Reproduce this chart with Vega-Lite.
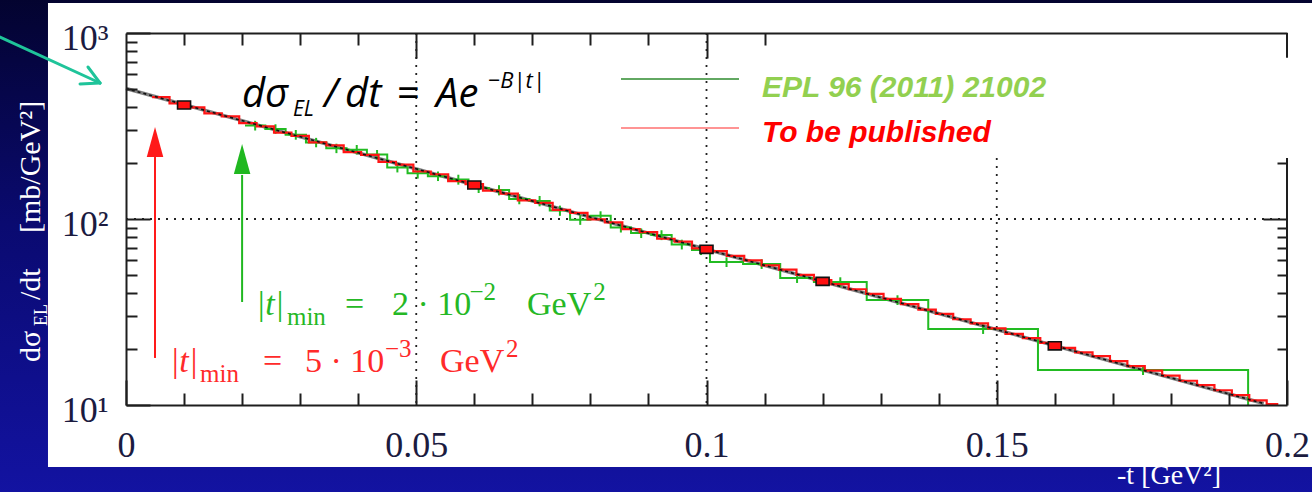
{
  "$schema": "https://vega.github.io/schema/vega-lite/v6.json",
  "width": 1161,
  "height": 372,
  "autosize": {"type": "none"},
  "padding": {"left": 126, "top": 33, "right": 25, "bottom": 87},
  "background": "#0a0a66",
  "config": {
    "view": {"stroke": null},
    "axis": {
      "grid": false,
      "domainColor": "#1e1e1e",
      "domainWidth": 2,
      "tickColor": "#1e1e1e",
      "tickWidth": 2,
      "labelFont": "Liberation Serif",
      "labelFontSize": 36,
      "labelColor": "#1b1b3f",
      "labelFlush": false,
      "labelOverlap": false
    }
  },
  "datasets": {
    "fit": [
      {"t": 0, "v": 503},
      {"t": 0.196, "v": 10.18}
    ],
    "totem2013": [
      {"t": 0.0045, "v": 452}, {"t": 0.0075, "v": 418}, {"t": 0.0105, "v": 398}, {"t": 0.0135, "v": 370},
      {"t": 0.0165, "v": 356}, {"t": 0.0195, "v": 328}, {"t": 0.0225, "v": 315}, {"t": 0.0255, "v": 291},
      {"t": 0.0285, "v": 280}, {"t": 0.0315, "v": 258}, {"t": 0.0345, "v": 249}, {"t": 0.0375, "v": 229},
      {"t": 0.0405, "v": 221}, {"t": 0.0435, "v": 203}, {"t": 0.0465, "v": 196}, {"t": 0.0495, "v": 180},
      {"t": 0.0525, "v": 174}, {"t": 0.0555, "v": 160}, {"t": 0.0585, "v": 154}, {"t": 0.0615, "v": 142},
      {"t": 0.0645, "v": 137}, {"t": 0.0675, "v": 126}, {"t": 0.0705, "v": 122}, {"t": 0.0735, "v": 112},
      {"t": 0.0765, "v": 108}, {"t": 0.0795, "v": 99.5}, {"t": 0.0825, "v": 95.8}, {"t": 0.0855, "v": 88.2},
      {"t": 0.0885, "v": 85.1}, {"t": 0.0915, "v": 78.3}, {"t": 0.0945, "v": 75.6}, {"t": 0.0975, "v": 69.5},
      {"t": 0.1005, "v": 67.2}, {"t": 0.1035, "v": 63.4}, {"t": 0.1065, "v": 59.9}, {"t": 0.1095, "v": 56.3},
      {"t": 0.1125, "v": 53.4}, {"t": 0.1155, "v": 50.1}, {"t": 0.1185, "v": 46.9}, {"t": 0.1215, "v": 44.6},
      {"t": 0.1245, "v": 41.9}, {"t": 0.1275, "v": 39.6}, {"t": 0.1305, "v": 37.2}, {"t": 0.1335, "v": 34.9},
      {"t": 0.1365, "v": 32.6}, {"t": 0.1395, "v": 30.9}, {"t": 0.1425, "v": 28.9}, {"t": 0.1455, "v": 27.5},
      {"t": 0.1485, "v": 25.8}, {"t": 0.1515, "v": 24.1}, {"t": 0.1545, "v": 22.9}, {"t": 0.1575, "v": 21.6},
      {"t": 0.1605, "v": 20.3}, {"t": 0.1635, "v": 19.2}, {"t": 0.1665, "v": 18.3}, {"t": 0.1695, "v": 17.2},
      {"t": 0.1725, "v": 16.2}, {"t": 0.1755, "v": 15.3}, {"t": 0.1785, "v": 14.4}, {"t": 0.1815, "v": 13.5},
      {"t": 0.1845, "v": 12.8}, {"t": 0.1875, "v": 12.0}, {"t": 0.1905, "v": 11.3}, {"t": 0.1935, "v": 10.6},
      {"t": 0.1965, "v": 10.1}, {"t": 0.1985, "v": 10.1}
    ],
    "epl2011": [
      {"t": 0.0205, "v": 318, "tc": 0.02225, "lo": 299, "hi": 337},
      {"t": 0.024, "v": 305, "tc": 0.02575, "lo": 287, "hi": 323},
      {"t": 0.0275, "v": 284, "tc": 0.02925, "lo": 267, "hi": 301},
      {"t": 0.031, "v": 258, "tc": 0.03275, "lo": 243, "hi": 273},
      {"t": 0.0345, "v": 240, "tc": 0.03625, "lo": 226, "hi": 254},
      {"t": 0.038, "v": 236, "tc": 0.03975, "lo": 222, "hi": 250},
      {"t": 0.0415, "v": 222, "tc": 0.04325, "lo": 209, "hi": 235},
      {"t": 0.045, "v": 189, "tc": 0.04675, "lo": 178, "hi": 200},
      {"t": 0.0485, "v": 176, "tc": 0.05025, "lo": 165, "hi": 187},
      {"t": 0.052, "v": 170, "tc": 0.05375, "lo": 160, "hi": 180},
      {"t": 0.0555, "v": 163, "tc": 0.05725, "lo": 153, "hi": 173},
      {"t": 0.059, "v": 147, "tc": 0.06075, "lo": 138, "hi": 156},
      {"t": 0.0625, "v": 143, "tc": 0.06425, "lo": 134, "hi": 152},
      {"t": 0.066, "v": 128, "tc": 0.06775, "lo": 120, "hi": 136},
      {"t": 0.0695, "v": 125, "tc": 0.07125, "lo": 117, "hi": 133},
      {"t": 0.073, "v": 111, "tc": 0.07475, "lo": 104, "hi": 118},
      {"t": 0.0765, "v": 99, "tc": 0.07825, "lo": 93, "hi": 105},
      {"t": 0.08, "v": 104, "tc": 0.08175, "lo": 97.8, "hi": 110},
      {"t": 0.0835, "v": 90, "tc": 0.08525, "lo": 84.6, "hi": 95.4},
      {"t": 0.087, "v": 84, "tc": 0.08875, "lo": 79, "hi": 89},
      {"t": 0.0905, "v": 82, "tc": 0.09225, "lo": 77, "hi": 87},
      {"t": 0.094, "v": 73, "tc": 0.09575, "lo": 68.6, "hi": 77.4},
      {"t": 0.0975, "v": 68.1, "tc": 0.09905, "lo": 64, "hi": 72.2},
      {"t": 0.1006, "v": 58.7, "tc": 0.10345, "lo": 55.2, "hi": 62.2},
      {"t": 0.1063, "v": 57.3, "tc": 0.1095, "lo": 53.9, "hi": 60.7},
      {"t": 0.1127, "v": 48.2, "tc": 0.1156, "lo": 45.3, "hi": 51.1},
      {"t": 0.1185, "v": 45.8, "tc": 0.12305, "lo": 43, "hi": 48.6},
      {"t": 0.1276, "v": 36.7, "tc": 0.1329, "lo": 34.5, "hi": 38.9},
      {"t": 0.1382, "v": 25.6, "tc": 0.14765, "lo": 24.1, "hi": 27.1},
      {"t": 0.1571, "v": 15.4, "tc": 0.1752, "lo": 14.5, "hi": 16.3},
      {"t": 0.1933, "v": 10}
    ],
    "markers": [
      {"t": 0.01, "v": 410},
      {"t": 0.06, "v": 152.4},
      {"t": 0.1, "v": 68.7},
      {"t": 0.12, "v": 46.2},
      {"t": 0.16, "v": 20.8}
    ],
    "grid": [
      {"x": 0.05, "x2": 0.05, "y": 1000, "y2": 10},
      {"x": 0.1, "x2": 0.1, "y": 1000, "y2": 10},
      {"x": 0.15, "x2": 0.15, "y": 213, "y2": 10},
      {"x": 0, "x2": 0.2, "y": 100, "y2": 100}
    ],
    "rightFrame": [
      {"x": 0.2, "y": 1000, "y2": 735},
      {"x": 0.2, "y": 213, "y2": 10}
    ],
    "tminNew": [{"t": 0.005, "head": 259.6, "base": 215.4, "foot": 17.9}],
    "tminEpl": [{"t": 0.02, "head": 210.2, "base": 172.5, "foot": 35.8}],
    "pointer": [
      {"x": -0.0217, "y": 951.7, "x2": -0.00448, "y2": 538.5},
      {"x": -0.00792, "y": 531.8, "x2": -0.00448, "y2": 538.5},
      {"x": -0.00655, "y": 656.6, "x2": -0.00448, "y2": 538.5}
    ]
  },
  "resolve": {"axis": {"x": "independent", "y": "independent"}},
  "layer": [
    {
      "data": {"values": [{}]},
      "mark": {"type": "rect", "fill": {"gradient": "linear", "x1": 0, "y1": 0, "x2": 0, "y2": 1,
        "stops": [{"offset": 0, "color": "#03032e"}, {"offset": 0.45, "color": "#0a0a70"}, {"offset": 1, "color": "#1313a3"}]}},
      "encoding": {
        "x": {"datum": -0.025, "type": "quantitative", "scale": {"domain": [0, 0.2], "nice": false, "zero": false}, "axis": null},
        "x2": {"datum": 0.21},
        "y": {"datum": 1600, "type": "quantitative", "scale": {"type": "log", "domain": [10, 1000], "nice": false}, "axis": null},
        "y2": {"datum": 3}
      }
    },
    {
      "data": {"values": [{}]},
      "mark": {"type": "rect", "fill": "#ffffff"},
      "encoding": {
        "x": {"datum": -0.01344, "type": "quantitative", "axis": null},
        "x2": {"datum": 0.21},
        "y": {"datum": 1449, "type": "quantitative", "axis": null},
        "y2": {"datum": 4.64}
      }
    },
    {
      "data": {"name": "grid"},
      "mark": {"type": "rule", "color": "#222222", "strokeWidth": 1.8, "strokeDash": [2, 6]},
      "encoding": {
        "x": {"field": "x", "type": "quantitative", "axis": null},
        "x2": {"field": "x2"},
        "y": {"field": "y", "type": "quantitative", "axis": null},
        "y2": {"field": "y2"}
      }
    },
    {
      "data": {"name": "rightFrame"},
      "mark": {"type": "rule", "color": "#1e1e1e", "strokeWidth": 2},
      "encoding": {
        "x": {"field": "x", "type": "quantitative", "axis": null},
        "y": {"field": "y", "type": "quantitative", "axis": null},
        "y2": {"field": "y2"}
      }
    },
    {
      "data": {"name": "fit"},
      "mark": {"type": "line", "color": "#808080", "strokeWidth": 3.5},
      "encoding": {
        "x": {"field": "t", "type": "quantitative", "scale": {"domain": [0, 0.2], "nice": false, "zero": false},
          "axis": {"orient": "bottom", "zindex": 1, "values": [0, 0.05, 0.1, 0.15, 0.2], "tickSize": -25, "labelPadding": 48,
            "labelExpr": "format(datum.value, '~g')", "title": null, "domain": true}},
        "y": {"field": "v", "type": "quantitative", "scale": {"type": "log", "domain": [10, 1000], "nice": false},
          "axis": {"orient": "left", "zindex": 1, "values": [10, 100, 1000], "tickSize": -24, "labelPadding": 42, "labelOffset": 5,
            "labelBaseline": "middle",
            "labelExpr": "datum.value >= 1000 ? '10³' : datum.value >= 100 ? '10²' : '10¹'", "title": null, "domain": true}}
      }
    },
    {
      "data": {"name": "epl2011"},
      "mark": {"type": "line", "color": "#22bb22", "strokeWidth": 2, "interpolate": "step-after"},
      "encoding": {
        "x": {"field": "t", "type": "quantitative",
          "axis": {"orient": "top", "zindex": 1, "values": [0.05, 0.1], "tickSize": -25, "labels": false, "title": null, "domain": true}},
        "y": {"field": "v", "type": "quantitative",
          "axis": {"orient": "right", "zindex": 1, "values": [100], "tickSize": -24, "labels": false, "title": null, "domain": false}}
      }
    },
    {
      "data": {"name": "epl2011"},
      "transform": [{"filter": "isValid(datum.lo)"}],
      "mark": {"type": "rule", "color": "#22bb22", "strokeWidth": 2},
      "encoding": {
        "x": {"field": "tc", "type": "quantitative", "axis": null},
        "y": {"field": "lo", "type": "quantitative", "axis": null},
        "y2": {"field": "hi"}
      }
    },
    {
      "data": {"name": "totem2013"},
      "mark": {"type": "line", "color": "#ff1414", "strokeWidth": 2.2, "interpolate": "step-after"},
      "encoding": {
        "x": {"field": "t", "type": "quantitative",
          "axis": {"orient": "bottom", "zindex": 1, "values": [0.01, 0.02, 0.03, 0.04, 0.06, 0.07, 0.08, 0.09, 0.11, 0.12, 0.13, 0.14, 0.16, 0.17, 0.18, 0.19],
            "tickSize": -12, "labels": false, "title": null, "domain": false}},
        "y": {"field": "v", "type": "quantitative",
          "axis": {"orient": "left", "zindex": 1, "values": [20, 30, 40, 50, 60, 70, 80, 90, 200, 300, 400, 500, 600, 700, 800, 900],
            "tickSize": -11, "labels": false, "title": null, "domain": false}}
      }
    },
    {
      "data": {"name": "fit"},
      "mark": {"type": "line", "color": "#111111", "strokeWidth": 1.6, "strokeDash": [3, 3]},
      "encoding": {
        "x": {"field": "t", "type": "quantitative", "axis": null},
        "y": {"field": "v", "type": "quantitative", "axis": null}
      }
    },
    {
      "data": {"name": "markers"},
      "mark": {"type": "point", "shape": "M-1,-0.62H1V0.62H-1Z", "size": 169, "filled": true, "fill": "#ff1010", "stroke": "#111111", "strokeWidth": 1.6, "opacity": 1},
      "encoding": {
        "x": {"field": "t", "type": "quantitative",
          "axis": {"orient": "top", "zindex": 1, "values": [0.01, 0.02, 0.03, 0.04, 0.06, 0.07, 0.08, 0.09, 0.11],
            "tickSize": -12, "labels": false, "title": null, "domain": false}},
        "y": {"field": "v", "type": "quantitative",
          "axis": {"orient": "right", "zindex": 1, "values": [20, 30, 40, 50, 60, 70, 80, 90, 200],
            "tickSize": -10, "labels": false, "title": null, "domain": false}}
      }
    },
    {
      "data": {"name": "tminNew"},
      "mark": {"type": "rule", "color": "#ff1a1a", "strokeWidth": 2},
      "encoding": {
        "x": {"field": "t", "type": "quantitative", "axis": null},
        "y": {"field": "base", "type": "quantitative", "axis": null},
        "y2": {"field": "foot"}
      }
    },
    {
      "data": {"name": "tminNew"},
      "mark": {"type": "point", "shape": "M0,-1L0.55,1L-0.55,1Z", "size": 900, "filled": true, "color": "#ff1a1a", "opacity": 1},
      "encoding": {
        "x": {"field": "t", "type": "quantitative", "axis": null},
        "y": {"field": "head", "type": "quantitative", "axis": null}
      }
    },
    {
      "data": {"name": "tminEpl"},
      "mark": {"type": "rule", "color": "#20b820", "strokeWidth": 2},
      "encoding": {
        "x": {"field": "t", "type": "quantitative", "axis": null},
        "y": {"field": "base", "type": "quantitative", "axis": null},
        "y2": {"field": "foot"}
      }
    },
    {
      "data": {"name": "tminEpl"},
      "mark": {"type": "point", "shape": "M0,-1L0.55,1L-0.55,1Z", "size": 900, "filled": true, "color": "#20b820", "opacity": 1},
      "encoding": {
        "x": {"field": "t", "type": "quantitative", "axis": null},
        "y": {"field": "head", "type": "quantitative", "axis": null}
      }
    },
    {
      "data": {"name": "pointer"},
      "mark": {"type": "rule", "color": "#1fc49a", "strokeWidth": 3, "strokeCap": "round"},
      "encoding": {
        "x": {"field": "x", "type": "quantitative", "axis": null},
        "x2": {"field": "x2"},
        "y": {"field": "y", "type": "quantitative", "axis": null},
        "y2": {"field": "y2"}
      }
    },
    {
      "data": {"values": [{}]},
      "mark": {"type": "rule", "color": "#2e8b2e", "strokeWidth": 1.5},
      "encoding": {
        "x": {"datum": 0.08527, "type": "quantitative", "axis": null},
        "x2": {"datum": 0.1056},
        "y": {"datum": 565.8, "type": "quantitative", "axis": null}
      }
    },
    {
      "data": {"values": [{}]},
      "mark": {"type": "rule", "color": "#ff7070", "strokeWidth": 1.5},
      "encoding": {
        "x": {"datum": 0.08527, "type": "quantitative", "axis": null},
        "x2": {"datum": 0.1056},
        "y": {"datum": 308.5, "type": "quantitative", "axis": null}
      }
    },
    {
      "data": {"values": [{}]},
      "mark": {"type": "text", "text": "EPL 96 (2011) 21002", "font": "Liberation Sans", "fontSize": 30, "fontWeight": "bold", "fontStyle": "italic", "color": "#92d050", "align": "left", "baseline": "alphabetic"},
      "encoding": {"x": {"datum": 0.10956, "type": "quantitative", "axis": null}, "y": {"datum": 452.6, "type": "quantitative", "axis": null}}
    },
    {
      "data": {"values": [{}]},
      "mark": {"type": "text", "text": "To be published", "font": "Liberation Sans", "fontSize": 30, "fontWeight": "bold", "fontStyle": "italic", "color": "#ff0000", "align": "left", "baseline": "alphabetic"},
      "encoding": {"x": {"datum": 0.10956, "type": "quantitative", "axis": null}, "y": {"datum": 259.5, "type": "quantitative", "axis": null}}
    },
    {
      "data": {"values": [{}]},
      "mark": {"type": "text", "text": "dσ", "font": "Open Sans", "fontSize": 40, "fontStyle": "italic", "color": "#000000", "align": "left", "baseline": "alphabetic"},
      "encoding": {"x": {"datum": 0.01998, "type": "quantitative", "axis": null}, "y": {"datum": 400.2, "type": "quantitative", "axis": null}}
    },
    {
      "data": {"values": [{}]},
      "mark": {"type": "text", "text": "EL", "font": "Open Sans", "fontSize": 21, "fontStyle": "italic", "color": "#000000", "align": "left", "baseline": "alphabetic"},
      "encoding": {"x": {"datum": 0.02877, "type": "quantitative", "axis": null}, "y": {"datum": 360, "type": "quantitative", "axis": null}}
    },
    {
      "data": {"values": [{}]},
      "mark": {"type": "text", "text": "/", "font": "Open Sans", "fontSize": 40, "fontStyle": "italic", "color": "#000000", "align": "left", "baseline": "alphabetic"},
      "encoding": {"x": {"datum": 0.03411, "type": "quantitative", "axis": null}, "y": {"datum": 400.2, "type": "quantitative", "axis": null}}
    },
    {
      "data": {"values": [{}]},
      "mark": {"type": "text", "text": "dt", "font": "Open Sans", "fontSize": 40, "fontStyle": "italic", "color": "#000000", "align": "left", "baseline": "alphabetic"},
      "encoding": {"x": {"datum": 0.03773, "type": "quantitative", "axis": null}, "y": {"datum": 400.2, "type": "quantitative", "axis": null}}
    },
    {
      "data": {"values": [{}]},
      "mark": {"type": "text", "text": "=", "font": "Open Sans", "fontSize": 40, "color": "#000000", "align": "left", "baseline": "alphabetic"},
      "encoding": {"x": {"datum": 0.0467, "type": "quantitative", "axis": null}, "y": {"datum": 400.2, "type": "quantitative", "axis": null}}
    },
    {
      "data": {"values": [{}]},
      "mark": {"type": "text", "text": "Ae", "font": "Open Sans", "fontSize": 40, "fontStyle": "italic", "color": "#000000", "align": "left", "baseline": "alphabetic"},
      "encoding": {"x": {"datum": 0.0534, "type": "quantitative", "axis": null}, "y": {"datum": 400.2, "type": "quantitative", "axis": null}}
    },
    {
      "data": {"values": [{}]},
      "mark": {"type": "text", "text": "−B|t|", "font": "Open Sans", "fontSize": 22, "fontStyle": "italic", "color": "#000000", "align": "left", "baseline": "alphabetic"},
      "encoding": {"x": {"datum": 0.06236, "type": "quantitative", "axis": null}, "y": {"datum": 506.2, "type": "quantitative", "axis": null}}
    },
    {
      "data": {"values": [{}]},
      "mark": {"type": "text", "text": "|t|", "font": "Liberation Serif", "fontSize": 34, "fontStyle": "italic", "color": "#25b825", "align": "left", "baseline": "alphabetic"},
      "encoding": {"x": {"datum": 0.02239, "type": "quantitative", "axis": null}, "y": {"datum": 30.53, "type": "quantitative", "axis": null}}
    },
    {
      "data": {"values": [{}]},
      "mark": {"type": "text", "text": "min", "font": "Liberation Serif", "fontSize": 25, "color": "#25b825", "align": "left", "baseline": "alphabetic"},
      "encoding": {"x": {"datum": 0.02773, "type": "quantitative", "axis": null}, "y": {"datum": 26.92, "type": "quantitative", "axis": null}}
    },
    {
      "data": {"values": [{}]},
      "mark": {"type": "text", "text": "=", "font": "Liberation Serif", "fontSize": 34, "color": "#25b825", "align": "left", "baseline": "alphabetic"},
      "encoding": {"x": {"datum": 0.03773, "type": "quantitative", "axis": null}, "y": {"datum": 30.53, "type": "quantitative", "axis": null}}
    },
    {
      "data": {"values": [{}]},
      "mark": {"type": "text", "text": "2 · 10", "font": "Liberation Serif", "fontSize": 34, "color": "#25b825", "align": "left", "baseline": "alphabetic"},
      "encoding": {"x": {"datum": 0.04582, "type": "quantitative", "axis": null}, "y": {"datum": 30.53, "type": "quantitative", "axis": null}}
    },
    {
      "data": {"values": [{}]},
      "mark": {"type": "text", "text": "−2", "font": "Liberation Serif", "fontSize": 25, "color": "#25b825", "align": "left", "baseline": "alphabetic"},
      "encoding": {"x": {"datum": 0.05916, "type": "quantitative", "axis": null}, "y": {"datum": 36.69, "type": "quantitative", "axis": null}}
    },
    {
      "data": {"values": [{}]},
      "mark": {"type": "text", "text": "GeV", "font": "Liberation Serif", "fontSize": 34, "color": "#25b825", "align": "left", "baseline": "alphabetic"},
      "encoding": {"x": {"datum": 0.06908, "type": "quantitative", "axis": null}, "y": {"datum": 30.53, "type": "quantitative", "axis": null}}
    },
    {
      "data": {"values": [{}]},
      "mark": {"type": "text", "text": "2", "font": "Liberation Serif", "fontSize": 25, "color": "#25b825", "align": "left", "baseline": "alphabetic"},
      "encoding": {"x": {"datum": 0.0805, "type": "quantitative", "axis": null}, "y": {"datum": 36.69, "type": "quantitative", "axis": null}}
    },
    {
      "data": {"values": [{}]},
      "mark": {"type": "text", "text": "|t|", "font": "Liberation Serif", "fontSize": 34, "fontStyle": "italic", "color": "#ff2a2a", "align": "left", "baseline": "alphabetic"},
      "encoding": {"x": {"datum": 0.00758, "type": "quantitative", "axis": null}, "y": {"datum": 15.06, "type": "quantitative", "axis": null}}
    },
    {
      "data": {"values": [{}]},
      "mark": {"type": "text", "text": "min", "font": "Liberation Serif", "fontSize": 25, "color": "#ff2a2a", "align": "left", "baseline": "alphabetic"},
      "encoding": {"x": {"datum": 0.01275, "type": "quantitative", "axis": null}, "y": {"datum": 13.29, "type": "quantitative", "axis": null}}
    },
    {
      "data": {"values": [{}]},
      "mark": {"type": "text", "text": "=", "font": "Liberation Serif", "fontSize": 34, "color": "#ff2a2a", "align": "left", "baseline": "alphabetic"},
      "encoding": {"x": {"datum": 0.0236, "type": "quantitative", "axis": null}, "y": {"datum": 15.06, "type": "quantitative", "axis": null}}
    },
    {
      "data": {"values": [{}]},
      "mark": {"type": "text", "text": "5 · 10", "font": "Liberation Serif", "fontSize": 34, "color": "#ff2a2a", "align": "left", "baseline": "alphabetic"},
      "encoding": {"x": {"datum": 0.03084, "type": "quantitative", "axis": null}, "y": {"datum": 15.06, "type": "quantitative", "axis": null}}
    },
    {
      "data": {"values": [{}]},
      "mark": {"type": "text", "text": "−3", "font": "Liberation Serif", "fontSize": 25, "color": "#ff2a2a", "align": "left", "baseline": "alphabetic"},
      "encoding": {"x": {"datum": 0.04462, "type": "quantitative", "axis": null}, "y": {"datum": 18.12, "type": "quantitative", "axis": null}}
    },
    {
      "data": {"values": [{}]},
      "mark": {"type": "text", "text": "GeV", "font": "Liberation Serif", "fontSize": 34, "color": "#ff2a2a", "align": "left", "baseline": "alphabetic"},
      "encoding": {"x": {"datum": 0.05409, "type": "quantitative", "axis": null}, "y": {"datum": 15.06, "type": "quantitative", "axis": null}}
    },
    {
      "data": {"values": [{}]},
      "mark": {"type": "text", "text": "2", "font": "Liberation Serif", "fontSize": 25, "color": "#ff2a2a", "align": "left", "baseline": "alphabetic"},
      "encoding": {"x": {"datum": 0.06546, "type": "quantitative", "axis": null}, "y": {"datum": 18.12, "type": "quantitative", "axis": null}}
    },
    {
      "data": {"values": [{}]},
      "mark": {"type": "text", "text": "-t  [GeV²]", "font": "Liberation Serif", "fontSize": 28, "color": "#ffffff", "align": "left", "baseline": "alphabetic"},
      "encoding": {"x": {"datum": 0.17072, "type": "quantitative", "axis": null}, "y": {"datum": 3.75, "type": "quantitative", "axis": null}}
    },
    {
      "data": {"values": [{}]},
      "mark": {"type": "text", "text": "dσ", "font": "Liberation Serif", "fontSize": 30, "angle": 270, "color": "#ffffff", "align": "left", "baseline": "alphabetic"},
      "encoding": {"x": {"datum": -0.014815, "type": "quantitative", "axis": null}, "y": {"datum": 17.02, "type": "quantitative", "axis": null}}
    },
    {
      "data": {"values": [{}]},
      "mark": {"type": "text", "text": "EL", "font": "Liberation Serif", "fontSize": 18, "angle": 270, "color": "#ffffff", "align": "left", "baseline": "alphabetic"},
      "encoding": {"x": {"datum": -0.01361, "type": "quantitative", "axis": null}, "y": {"datum": 26.6, "type": "quantitative", "axis": null}}
    },
    {
      "data": {"values": [{}]},
      "mark": {"type": "text", "text": "/dt", "font": "Liberation Serif", "fontSize": 30, "angle": 270, "color": "#ffffff", "align": "left", "baseline": "alphabetic"},
      "encoding": {"x": {"datum": -0.014815, "type": "quantitative", "axis": null}, "y": {"datum": 36.69, "type": "quantitative", "axis": null}}
    },
    {
      "data": {"values": [{}]},
      "mark": {"type": "text", "text": "[mb/GeV²]", "font": "Liberation Serif", "fontSize": 30, "angle": 270, "color": "#ffffff", "align": "left", "baseline": "alphabetic"},
      "encoding": {"x": {"datum": -0.014815, "type": "quantitative", "axis": null}, "y": {"datum": 84.1, "type": "quantitative", "axis": null}}
    }
  ]
}
